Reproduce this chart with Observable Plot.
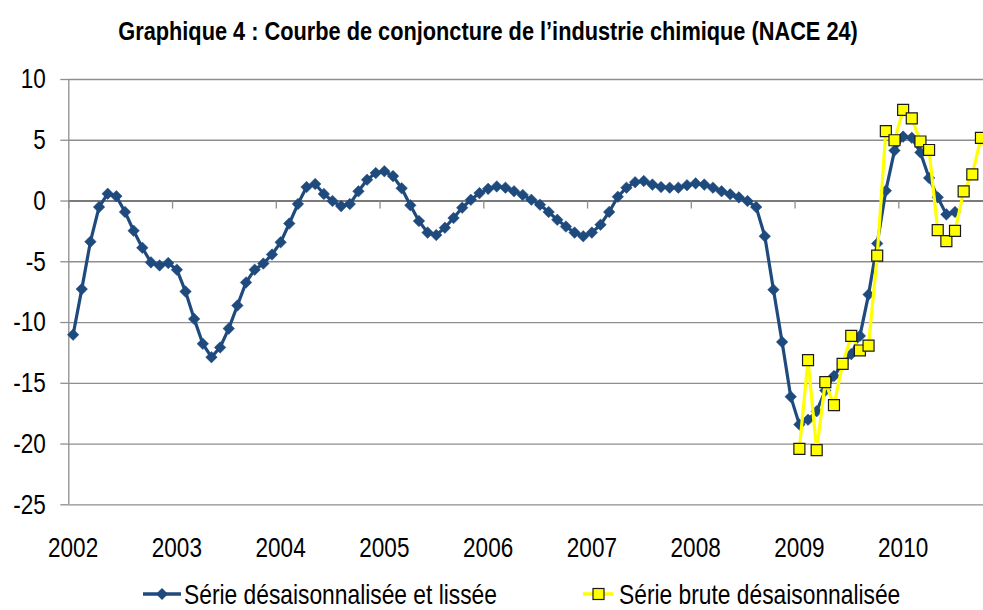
<!DOCTYPE html>
<html>
<head>
<meta charset="utf-8">
<script src="https://cdn.jsdelivr.net/npm/d3@7"></script>
<script src="https://cdn.jsdelivr.net/npm/@observablehq/plot@0.6"></script>
<style>
  html, body { margin: 0; padding: 0; background: #fff; }
  body { width: 983px; height: 610px; overflow: hidden; position: relative;
         font-family: "Liberation Sans", Arial, sans-serif; color: #000; }
  .narrow { display: inline-block; transform: scaleX(0.82); white-space: nowrap; }
  #title { height: 60px; line-height: 62px; text-align: center; font-weight: bold; font-size: 25px; padding-right: 6px; }
  #title .narrow { transform-origin: 50% 50%; transform: scaleX(0.87); }
  #legend { position: absolute; left: 0; top: 579px; width: 983px; height: 32px; font-size: 27.8px; }
  .leg { position: absolute; top: 0; display: flex; align-items: center; white-space: nowrap; }
  .leg .narrow { transform-origin: 0 50%; }
  .leg svg { display: block; }
</style>
</head>
<body>
<div id="title"><span class="narrow">Graphique 4 : Courbe de conjoncture de l’industrie chimique (NACE 24)</span></div>
<div id="chart"></div>
<div id="legend"></div>
<script>
// ---- Data (monthly) ----
const yearLabels = ["2002", "2003", "2004", "2005", "2006", "2007", "2008", "2009", "2010"];
const seriesNames = ["Série désaisonnalisée et lissée", "Série brute désaisonnalisée"];
// Série désaisonnalisée et lissée : janvier 2002 -> juillet 2010
const lisseeStart = 0; // month index of Jan 2002
const lisseeValues = [
  -11.0, -7.25, -3.35, -0.5, 0.6, 0.4, -0.9, -2.45, -3.85, -5.05, -5.3, -5.1,
  -5.65, -7.45, -9.7, -11.75, -12.85, -12.05, -10.5, -8.6, -6.7, -5.65, -5.15, -4.4,
  -3.4, -1.85, -0.25, 1.15, 1.4, 0.58, 0.0, -0.42, -0.25, 0.8, 1.75, 2.3,
  2.45, 2.05, 1.05, -0.35, -1.65, -2.6, -2.8, -2.2, -1.4, -0.55, 0.1, 0.65,
  1.0, 1.2, 1.1, 0.8, 0.5, 0.1, -0.3, -0.9, -1.55, -2.1, -2.6, -2.9,
  -2.6, -1.95, -0.9, 0.35, 1.1, 1.55, 1.65, 1.35, 1.15, 1.1, 1.1, 1.3,
  1.45, 1.35, 1.1, 0.8, 0.55, 0.3, 0.0, -0.5, -2.9, -7.3, -11.6, -16.1,
  -18.4, -18.0, -17.3, -15.6, -14.4, -13.4, -12.6, -11.1, -7.7, -3.5, 0.85, 4.15,
  5.3, 5.2, 4.0, 1.9, 0.3, -1.1, -0.9
];
// Série brute désaisonnalisée : janvier 2009 -> novembre 2010
const bruteStart = 84; // month index of Jan 2009
const bruteValues = [
  -20.4, -13.1, -20.5, -14.9, -16.8, -13.4, -11.1, -12.3, -11.9, -4.5, 5.75, 5.0,
  7.5, 6.8, 4.9, 4.2, -2.4, -3.3, -2.45, 0.8, 2.2, 5.2, 3.6
];
const yTicks = [-25, -20, -15, -10, -5, 0, 5, 10];
const totalMonths = 108; // 2002-2010, 12 months each

const lissee = lisseeValues.map((v, i) => ({m: lisseeStart + i + 0.5, v}));
const brute = bruteValues.map((v, i) => ({m: bruteStart + i + 0.5, v}));
const yearStarts = yearLabels.map((y, k) => k * 12 + 0.5);
const yearBounds = d3.range(0, totalMonths + 1, 12);

const BLUE = "#1F4A7E";
const YELLOW = "#FFFF00";
const GRID = "#8E8E8E";
const FONT = '"Liberation Sans", Arial, sans-serif';

const monthPx = 8.646;
const x0 = 68.3;

const chart = Plot.plot({
  width: 983,
  height: 510,
  marginTop: 19,
  marginBottom: 65.7,
  marginLeft: 68.3,
  marginRight: 0,
  style: {fontFamily: FONT, fontSize: "27.5px", color: "#000", background: "transparent", overflow: "hidden"},
  x: {type: "linear", domain: [0, totalMonths], range: [x0, x0 + totalMonths * monthPx]},
  y: {domain: [-25, 10]},
  marks: [
    Plot.gridY(yTicks, {stroke: GRID, strokeOpacity: 1, strokeWidth: 1.3}),
    Plot.axisY(yTicks, {tickSize: 8, tickPadding: 15, stroke: GRID, strokeOpacity: 1, strokeWidth: 1.3, tickFormat: d => String(d), label: null, fill: "#000"}),
    Plot.ruleX([0], {y1: -25, y2: 10, stroke: GRID, strokeWidth: 1.3}),
    Plot.ruleY([0], {stroke: "#7a7a7a", strokeWidth: 1.8}),
    Plot.ruleX(yearBounds, {x: d => d, y1: 0, y2: -0.66, stroke: GRID, strokeWidth: 1.3}),
    Plot.axisX(yearStarts, {anchor: "bottom", tickSize: 0, tickPadding: 33, tickFormat: d => yearLabels[Math.round((d - 0.5) / 12)], label: null, fill: "#000"}),
    Plot.line(lissee, {x: "m", y: "v", stroke: BLUE, strokeWidth: 3.2}),
    Plot.dot(lissee, {x: "m", y: "v", symbol: "diamond2", r: 5.2, fill: BLUE, stroke: BLUE, strokeWidth: 0.5}),
    Plot.line(brute, {x: "m", y: "v", stroke: YELLOW, strokeWidth: 3.2}),
    Plot.dot(brute, {x: "m", y: "v", symbol: "square", r: 6.2, fill: YELLOW, stroke: "#1a1a1a", strokeWidth: 1.2})
  ]
});
// Narrow the axis labels (Arial Narrow look): scale horizontally around each label's anchor
chart.querySelectorAll("text").forEach(t => {
  const tr = t.getAttribute("transform") || "";
  let dx = parseFloat(t.getAttribute("dx"));
  if (isFinite(dx)) t.removeAttribute("dx"); else dx = 0;
  t.setAttribute("transform", `${tr} translate(${dx},0) scale(0.82,1)`);
});
document.getElementById("chart").appendChild(chart);

// Legend
const legend = document.getElementById("legend");
function addItem(left, name, symbolSvg) {
  const div = document.createElement("div");
  div.className = "leg";
  div.style.left = left + "px";
  div.innerHTML = symbolSvg + `<span class="narrow" style="margin-left:2px">${name}</span>`;
  legend.appendChild(div);
}
addItem(142, seriesNames[0],
  `<svg width="40" height="30"><line x1="1" y1="14" x2="39" y2="14" stroke="${BLUE}" stroke-width="3.5"/><path d="M20,8 L26,14 L20,20 L14,14 Z" fill="${BLUE}"/></svg>`);
addItem(577, seriesNames[1],
  `<svg width="40" height="30"><line x1="6" y1="14" x2="36" y2="14" stroke="${YELLOW}" stroke-width="3.5"/><rect x="16" y="8.5" width="11" height="11" fill="${YELLOW}" stroke="#1a1a1a" stroke-width="1.2"/></svg>`);
</script>
</body>
</html>
